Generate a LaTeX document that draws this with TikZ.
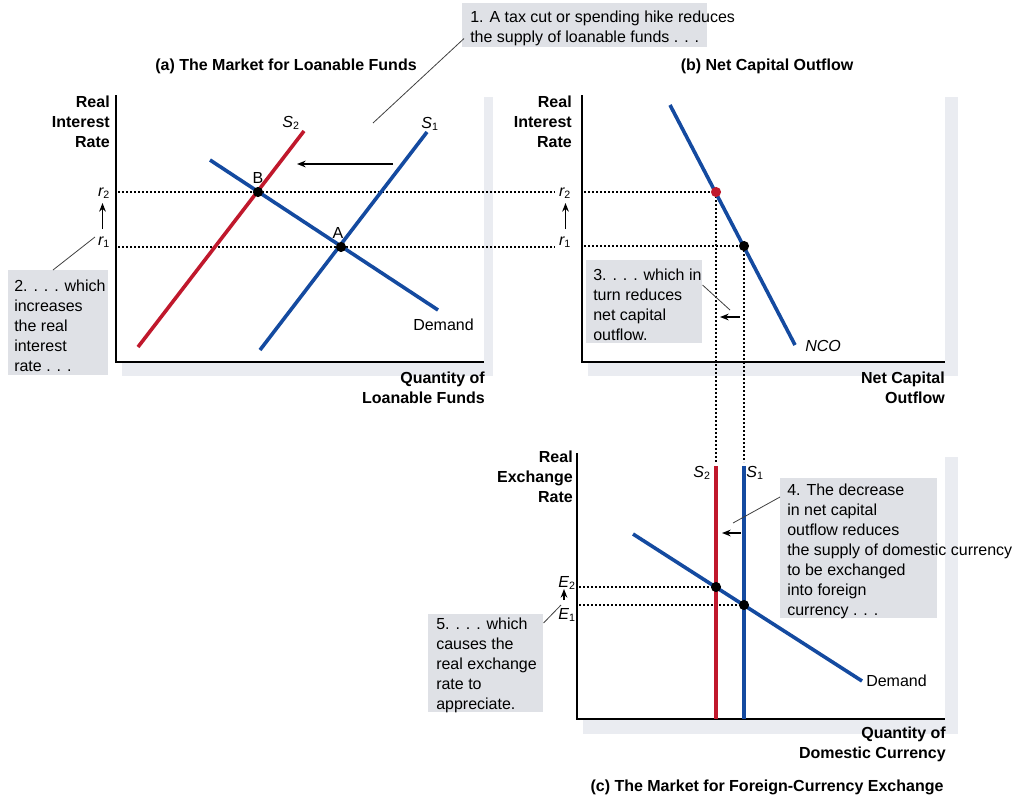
\documentclass[tikz,border=0pt]{standalone}
\usepackage{fontspec}
\setmainfont{Liberation Sans}
\usetikzlibrary{arrows.meta,calc}
\definecolor{ecblue}{RGB}{20,74,160}
\definecolor{ecred}{RGB}{192,24,44}
\definecolor{boxgray}{RGB}{223,225,230}
\definecolor{shadowgray}{RGB}{234,236,241}
\begin{document}
\begin{tikzpicture}[x=0.75pt,y=-0.75pt,
  txt/.style={font=\fontsize{12}{15}\selectfont, inner sep=0pt},
  btxt/.style={font=\bfseries\fontsize{12}{15}\selectfont, inner sep=0pt},
  itxt/.style={font=\itshape\fontsize{12}{15}\selectfont, inner sep=0pt},
  slbl/.style={font=\itshape\fontsize{12}{14}\selectfont, inner sep=0pt},
  curve/.style={line width=2.7pt},
  axisline/.style={line width=0.9pt},
  dotline/.style={line width=1.4pt, dash pattern=on 1.4pt off 1.6pt},
  leader/.style={line width=0.6pt, black!75},
  arr/.style={line width=1pt, -{Stealth[length=6.5pt,width=5pt]}},
  note/.style={fill=boxgray, inner sep=0pt, anchor=north west},
]
\useasboundingbox (0,0) rectangle (1019,796);

% panel frames with shadow
\fill[shadowgray] (122,97) rectangle (493,376);
\fill[white] (116,92) rectangle (484,363);
\fill[shadowgray] (588,97) rectangle (958,376);
\fill[white] (582,92) rectangle (945,363);
\fill[shadowgray] (583,457) rectangle (958,734);
\fill[white] (577,452) rectangle (945,720);

% axes
\draw[axisline] (116,95) -- (116,362) -- (484,362);
\draw[axisline] (582,95) -- (582,362) -- (945,362);
\draw[axisline] (577,453) -- (577,719) -- (945,719);

% key points
\coordinate (B) at (258,192);
\coordinate (A) at (341,247);
\coordinate (P2) at (716,192);
\coordinate (P1) at (744,246);
\coordinate (Q2) at (716,587);
\coordinate (Q1) at (744,605);

% dotted guide lines
\draw[dotline] (118,192) -- (555,192);
\draw[dotline] (584,192) -- (P2);
\draw[dotline] (118,247) -- (555,247);
\draw[dotline] (584,246) -- (P1);
\draw[dotline] (P2) -- (716,462);
\draw[dotline] (P1) -- (744,462);
\draw[dotline] (579,587) -- (Q2);
\draw[dotline] (579,605) -- (Q1);

% panel (a) curves
\draw[curve, ecred] (138,347) -- (304,131);
\draw[curve, ecblue] (260,350) -- (427,132);
\draw[curve, ecblue] (210,160) -- (438,310);
% panel (b) curve
\draw[curve, ecblue] (670,105) -- (795,345);
% panel (c) curves
\draw[curve, ecred] (716,466) -- (716,719);
\draw[curve, ecblue] (744,466) -- (744,719);
\draw[curve, ecblue] (633,534) -- (862,681);

% dots
\fill (B) circle (3.8pt);
\fill (A) circle (3.8pt);
\fill[ecred] (P2) circle (3.8pt);
\fill (P1) circle (3.8pt);
\fill (Q2) circle (3.8pt);
\fill (Q1) circle (3.8pt);

% titles
\node[btxt, anchor=base] (ta) at (286,70) {(a) The Market for Loanable Funds};
\node[btxt, anchor=base] (tb) at (767,70) {(b) Net Capital Outflow};
\node[btxt, anchor=base] (tc) at (767,791) {(c) The Market for Foreign-Currency Exchange};

% axis labels
\node[btxt, anchor=north east, align=right] (ya) at (110,95.5) {Real\\Interest\\Rate};
\node[btxt, anchor=north east, align=right] (yb) at (572,95.5) {Real\\Interest\\Rate};
\node[btxt, anchor=north east, align=right] (yc) at (573,450.5) {Real\\Exchange\\Rate};
\node[btxt, anchor=north east, align=right] (xa) at (485,371.5) {Quantity of\\Loanable Funds};
\node[btxt, anchor=north east, align=right] (xb) at (945,371.5) {Net Capital\\Outflow};
\node[btxt, anchor=north east, align=right] (xc) at (946,726.5) {Quantity of\\Domestic Currency};

% curve labels
\node[slbl, anchor=base] (s2a) at (291,127) {S\textsubscript{\upshape 2}};
\node[slbl, anchor=base] (s1a) at (430,128) {S\textsubscript{\upshape 1}};
\node[txt, anchor=base] (lb) at (258,183) {B};
\node[txt, anchor=base] (la) at (338,238) {A};
\node[txt, anchor=base west] (da) at (413,330) {Demand};
\node[itxt, anchor=base west] (nco) at (805,351) {NCO};
\node[slbl, anchor=base] (s2c) at (702,477) {S\textsubscript{\upshape 2}};
\node[slbl, anchor=base] (s1c) at (755,477) {S\textsubscript{\upshape 1}};
\node[txt, anchor=base west] (dc) at (866,686) {Demand};

% rate labels
\node[slbl, anchor=base] (r2a) at (104,196) {r\textsubscript{\upshape 2}};
\node[slbl, anchor=base] (r1a) at (104,245) {r\textsubscript{\upshape 1}};
\node[slbl, anchor=base] (r2b) at (565,196) {r\textsubscript{\upshape 2}};
\node[slbl, anchor=base] (r1b) at (565,245) {r\textsubscript{\upshape 1}};
\node[slbl, anchor=base] (e2) at (567,587) {E\textsubscript{\upshape 2}};
\node[slbl, anchor=base] (e1) at (567,619) {E\textsubscript{\upshape 1}};

\draw[arr] ($(r1a.base)+(-1.5,-16)$) -- ($(r2a.base)+(-1.5,7)$);
\draw[arr] ($(r1b.base)+(0.5,-16)$) -- ($(r2b.base)+(0.5,7)$);
\draw[arr] ($(e1.base)+(-3,-19)$) -- ($(e2.base)+(-3,2)$);

% shift arrows
\coordinate (a1s) at (393,164); \coordinate (a1e) at (297,164);
\draw[arr] (a1s) -- (a1e);
\coordinate (a3s) at (740,317); \coordinate (a3e) at (720,317);
\draw[arr] (a3s) -- (a3e);
\coordinate (a4s) at (741,533); \coordinate (a4e) at (722,533);
\draw[arr] (a4s) -- (a4e);

% note boxes
\node[note, minimum width=183.75pt, minimum height=33pt] (box1) at (462,3) {};
\node[txt, anchor=north west, align=left] (t1) at (470,10.3) {1. A tax cut or spending hike reduces\\the supply of loanable funds . . .};
\node[note, minimum width=75pt, minimum height=78.75pt] (box2) at (8,270) {};
\node[txt, anchor=north west, align=left] (t2) at (14,279.3) {2. . . . which\\increases\\the real\\interest\\rate . . .};
\node[note, minimum width=87pt, minimum height=62.25pt] (box3) at (586,260) {};
\node[txt, anchor=north west, align=left] (t3) at (593,268.3) {3. . . . which in\\turn reduces\\net capital\\outflow.};
\node[note, minimum width=117.75pt, minimum height=105pt] (box4) at (780,478) {};
\node[txt, anchor=north west, align=left] (t4) at (787,483.3) {4. The decrease\\in net capital\\outflow reduces\\the supply of domestic currency\\to be exchanged\\into foreign\\currency . . .};
\node[note, minimum width=86.25pt, minimum height=73.5pt] (box5) at (428,614) {};
\node[txt, anchor=north west, align=left] (t5) at (436,617.5) {5. . . . which\\causes the\\real exchange\\rate to\\appreciate.};

% leader lines
\coordinate (l1) at (373,123);
\draw[leader] ($(box1.south west)+(2,-9)$) -- (l1);
\coordinate (l2) at (95,237);
\draw[leader] ($(box2.north west)+(45,0)$) -- (l2);
\coordinate (l3) at (730,310);
\draw[leader] ($(box3.north east)+(0,25)$) -- (l3);
\coordinate (l4) at (733,523);
\draw[leader] ($(box4.north west)+(0,19)$) -- (l4);
\coordinate (l5) at (561,605);
\draw[leader] ($(box5.north east)+(0,9)$) -- (l5);
\end{tikzpicture}
\end{document}
